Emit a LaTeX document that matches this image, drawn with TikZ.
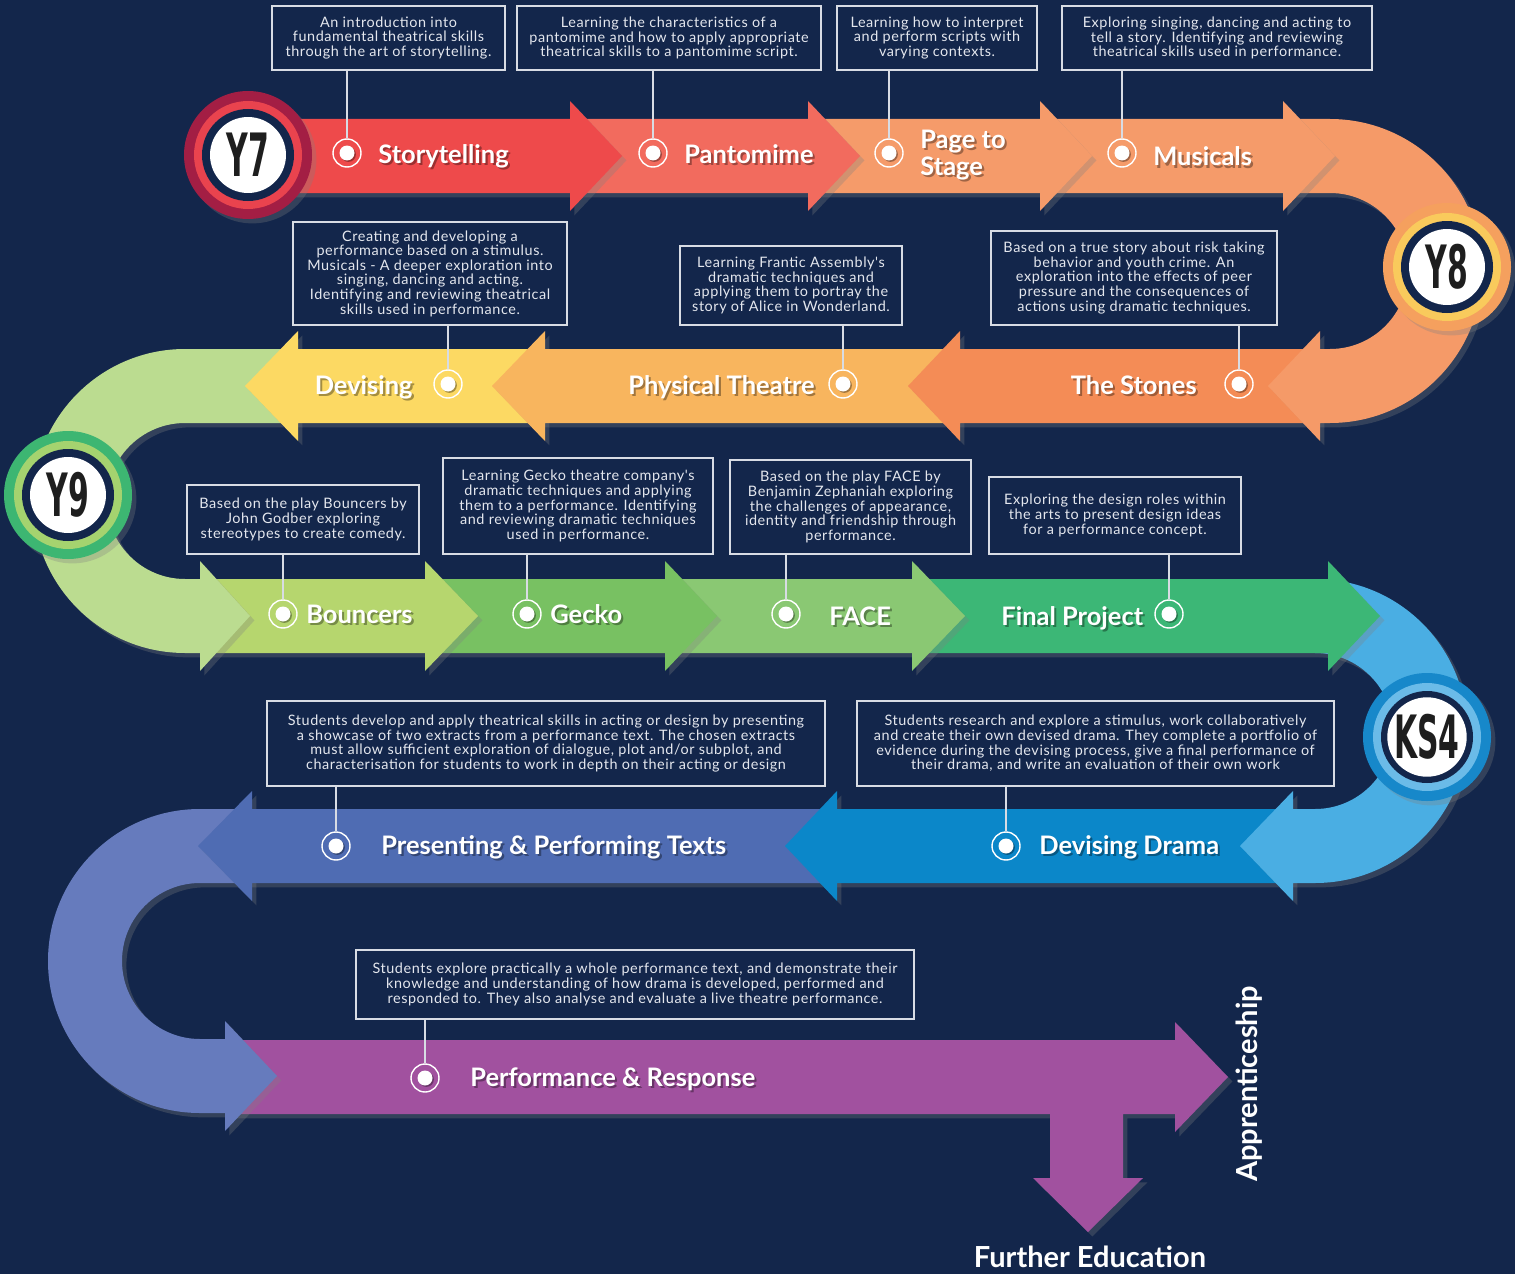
\documentclass[tikz,border=0pt]{standalone}
\usepackage{fontspec}
\setmainfont{Lato}
\newfontfamily\boxfont{Lato}[LetterSpace=4.0]
\newfontfamily\yearfont{DejaVu Sans}
\usetikzlibrary{shadows}

\definecolor{bgnavy}{HTML}{13264B}
\definecolor{boxline}{HTML}{D8DCE4}
\definecolor{boxtext}{HTML}{E4E7EE}
\definecolor{yeartext}{HTML}{1E1E1E}
\definecolor{storyred}{HTML}{EE4A4B}
\definecolor{pantored}{HTML}{F26B5E}
\definecolor{pageorange}{HTML}{F59B6A}
\definecolor{musicorange}{HTML}{F59B6A}
\definecolor{uturnone}{HTML}{F59A68}
\definecolor{stonesorange}{HTML}{F48C56}
\definecolor{physorange}{HTML}{F8B55E}
\definecolor{devyellow}{HTML}{FCD963}
\definecolor{uturntwo}{HTML}{BBDC90}
\definecolor{bouncgreen}{HTML}{B6D66E}
\definecolor{geckogreen}{HTML}{78C162}
\definecolor{facegreen}{HTML}{8AC873}
\definecolor{finalgreen}{HTML}{3CB776}
\definecolor{uturnthree}{HTML}{4AAEE3}
\definecolor{dramablue}{HTML}{0B87C9}
\definecolor{textsblue}{HTML}{4F6CB3}
\definecolor{uturnfour}{HTML}{667BBD}
\definecolor{perfpurple}{HTML}{A1519F}
\definecolor{ysevenout}{HTML}{A31E44}
\definecolor{ysevenring}{HTML}{E9434E}
\definecolor{yeightout}{HTML}{F5A05E}
\definecolor{yeightring}{HTML}{F9CA5C}
\definecolor{ynineout}{HTML}{3DB672}
\definecolor{yninering}{HTML}{A5D36F}
\definecolor{ksout}{HTML}{1788CA}
\definecolor{ksring}{HTML}{6BBBE8}

% straight arrow: colour, start x, head base x, tip x, middle y
\newcommand{\steparrow}[5]{%
  \fill[#1, arrowshadow] (#2,#5-37) -- (#3,#5-37) -- (#3,#5-55) -- (#4,#5)
    -- (#3,#5+55) -- (#3,#5+37) -- (#2,#5+37) -- cycle;}
% u-turns: colour, start x, centre x, centre y, head base x, tip x
\newcommand{\uright}[6]{%
  \fill[#1, arrowshadow] (#2,#4-152) -- (#3,#4-152) arc (-90:90:152) -- (#5,#4+152)
    -- (#5,#4+170) -- (#6,#4+115) -- (#5,#4+60) -- (#5,#4+78) -- (#3,#4+78)
    arc (90:-90:78) -- (#2,#4-78) -- cycle;}
\newcommand{\uleft}[6]{%
  \fill[#1, arrowshadow] (#2,#4-152) -- (#3,#4-152) arc (-90:-270:152) -- (#5,#4+152)
    -- (#5,#4+170) -- (#6,#4+115) -- (#5,#4+60) -- (#5,#4+78) -- (#3,#4+78)
    arc (90:270:78) -- (#2,#4-78) -- cycle;}
% year badge: name, centre, outer colour, ring colour, text
\newcommand{\yearbadge}[5]{%
  \fill[#3, arrowshadow] (#2) circle (64);
  \fill[#4] (#2) circle (54);
  \fill[bgnavy] (#2) circle (46);
  \node[yearnum] (#1) at (#2) {\scalebox{0.5}[1]{#5}};}
% white label with a soft dark copy under it
\newcommand{\steplabel}[4]{%
  \node[lblshadow, anchor=#2, xshift=1.2pt, yshift=-1.2pt] (#1s) at (#3) {#4};
  \node[lbl, anchor=#2] (#1) at (#3) {#4};}

\tikzset{
  arrowshadow/.style={drop shadow={shadow xshift=2.5pt, shadow yshift=-2.5pt, opacity=0.3}},
  infobox/.style={draw=boxline, line width=0.7pt, text=boxtext, align=center, inner sep=0pt,
    font=\boxfont\fontsize{8.2}{8.3}\selectfont},
  conn/.style={draw=boxline, line width=0.6pt},
  mk/.style={circle, draw=white, line width=0.8pt, minimum size=0.56cm, inner sep=0pt,
    path picture={\fill[black, opacity=0.35] ([xshift=0.8pt, yshift=-0.8pt]path picture bounding box.center) circle (0.15cm);
      \fill[white] (path picture bounding box.center) circle (0.15cm);}},
  lbl/.style={text=white, inner sep=0pt, align=left, font=\fontsize{14.5}{15}\selectfont\bfseries},
  lblshadow/.style={lbl, text=black, opacity=0.35},
  biglbl/.style={font=\fontsize{16.5}{17}\selectfont\bfseries},
  yearnum/.style={circle, fill=white, minimum size=1.52cm, inner sep=0pt, text=yeartext,
    font=\yearfont\fontsize{34}{34}\selectfont\bfseries}
}

\begin{document}
\begin{tikzpicture}[x=0.02cm, y=-0.02cm]
\useasboundingbox (0,0) rectangle (1515,1274);
\fill[bgnavy] (0,0) rectangle (1515,1274);

% the road, drawn from its end back to its start
\fill[perfpurple, arrowshadow] (225,1040) -- (1175,1040) -- (1175,1022) -- (1228,1077)
  -- (1175,1132) -- (1175,1114) -- (1123,1114) -- (1123,1178) -- (1143,1178) -- (1088,1232)
  -- (1033,1178) -- (1050,1178) -- (1050,1114) -- (225,1114) -- cycle;
\uleft{uturnfour}{252}{200}{961}{225}{277}
\steparrow{textsblue}{837}{252}{198}{846}
\steparrow{dramablue}{1293}{837}{785}{846}
\uright{uturnthree}{1328}{1315}{731}{1293}{1240}
\steparrow{finalgreen}{912}{1328}{1380}{616}
\steparrow{facegreen}{665}{912}{965}{616}
\steparrow{geckogreen}{425}{665}{717}{616}
\steparrow{bouncgreen}{200}{425}{478}{616}
\uleft{uturntwo}{298}{185}{501}{200}{250}
\steparrow{devyellow}{545}{298}{245}{386}
\steparrow{physorange}{960}{545}{492}{386}
\steparrow{stonesorange}{1320}{960}{908}{386}
\uright{uturnone}{1283}{1330}{271}{1320}{1268}
\steparrow{musicorange}{1040}{1283}{1335}{156}
\steparrow{pageorange}{808}{1040}{1092}{156}
\steparrow{pantored}{570}{808}{860}{156}
\steparrow{storyred}{290}{570}{622}{156}

% year badges
\yearbadge{yseven}{248,155}{ysevenout}{ysevenring}{Y7}
\yearbadge{yeight}{1447,267}{yeightout}{yeightring}{Y8}
\yearbadge{ynine}{68,495}{ynineout}{yninering}{Y9}
\yearbadge{ksfour}{1427,737}{ksout}{ksring}{KS4}

% description boxes
\node[infobox, minimum width=4.66cm, minimum height=1.28cm] (storybox) at (388.5,38)
  {An introduction into\\fundamental theatrical skills\\through the art of storytelling.};
\node[infobox, minimum width=6.08cm, minimum height=1.28cm] (pantobox) at (669,38)
  {Learning the characteristics of a\\pantomime and how to apply appropriate\\theatrical skills to a pantomime script.};
\node[infobox, minimum width=4.0cm, minimum height=1.28cm] (pagebox) at (937,38)
  {Learning how to interpret\\and perform scripts with\\varying contexts.};
\node[infobox, minimum width=6.2cm, minimum height=1.28cm] (musicbox) at (1217,38)
  {Exploring singing, dancing and acting to\\tell a story. Identifying and reviewing\\theatrical skills used in performance.};
\node[infobox, minimum width=5.48cm, minimum height=2.06cm] (devisebox) at (430,273.5)
  {Creating and developing a\\performance based on a stimulus.\\Musicals - A deeper exploration into\\singing, dancing and acting.\\Identifying and reviewing theatrical\\skills used in performance.};
\node[infobox, minimum width=4.44cm, minimum height=1.58cm] (physbox) at (791,285.5)
  {Learning Frantic Assembly's\\dramatic techniques and\\applying them to portray the\\story of Alice in Wonderland.};
\node[infobox, minimum width=5.72cm, minimum height=1.88cm] (stonesbox) at (1134,278)
  {Based on a true story about risk taking\\behavior and youth crime. An\\exploration into the effects of peer\\pressure and the consequences of\\actions using dramatic techniques.};
\node[infobox, minimum width=4.64cm, minimum height=1.38cm] (bouncebox) at (303,519.5)
  {Based on the play Bouncers by\\John Godber exploring\\stereotypes to create comedy.};
\node[infobox, minimum width=5.4cm, minimum height=1.92cm] (geckobox) at (578,506)
  {Learning Gecko theatre company's\\dramatic techniques and applying\\them to a performance. Identifying\\and reviewing dramatic techniques\\used in performance.};
\node[infobox, minimum width=4.82cm, minimum height=1.88cm] (facebox) at (850.5,507)
  {Based on the play FACE by\\Benjamin Zephaniah exploring\\the challenges of appearance,\\identity and friendship through\\performance.};
\node[infobox, minimum width=5.04cm, minimum height=1.54cm] (finalbox) at (1115,515.5)
  {Exploring the design roles within\\the arts to present design ideas\\for a performance concept.};
\node[infobox, minimum width=11.16cm, minimum height=1.7cm] (textsbox) at (546,743.5)
  {Students develop and apply theatrical skills in acting or design by presenting\\a showcase of two extracts from a performance text. The chosen extracts\\must allow sufficient exploration of dialogue, plot and/or subplot, and\\characterisation for students to work in depth on their acting or design};
\node[infobox, minimum width=9.54cm, minimum height=1.7cm] (dramabox) at (1095.5,743.5)
  {Students research and explore a stimulus, work collaboratively\\and create their own devised drama. They complete a portfolio of\\evidence during the devising process, give a final performance of\\their drama, and write an evaluation of their own work};
\node[infobox, minimum width=11.16cm, minimum height=1.38cm] (perfbox) at (635,984.5)
  {Students explore practically a whole performance text, and demonstrate their\\knowledge and understanding of how drama is developed, performed and\\responded to. They also analyse and evaluate a live theatre performance.};

% markers on the road
\node[mk] (storymk) at (347,153) {};
\node[mk] (pantomk) at (653,153) {};
\node[mk] (pagemk) at (889,153) {};
\node[mk] (musicmk) at (1122,153) {};
\node[mk] (devisemk) at (448,384) {};
\node[mk] (physmk) at (843,384) {};
\node[mk] (stonesmk) at (1239,384) {};
\node[mk] (bouncemk) at (283,614) {};
\node[mk] (geckomk) at (527,614) {};
\node[mk] (facemk) at (786,614) {};
\node[mk] (finalmk) at (1169,614) {};
\node[mk] (textsmk) at (336,846) {};
\node[mk] (dramamk) at (1006,846) {};
\node[mk] (perfmk) at (425,1078) {};

% connectors
\foreach \s in {story,panto,page,music,devise,phys,stones,bounce,gecko,face,final,texts,drama,perf}
  \draw[conn] (\s mk.north |- \s box.south) -- (\s mk.north);

% labels
\steplabel{storylbl}{base west}{378,163}{Storytelling}
\steplabel{pantolbl}{base west}{684,163}{Pantomime}
\steplabel{pagelbl}{west}{920,155}{Page to\\Stage}
\steplabel{musiclbl}{base west}{1153,166}{Musicals}
\steplabel{deviselbl}{base east}{413,394}{Devising}
\steplabel{physlbl}{base east}{815,394}{Physical Theatre}
\steplabel{stoneslbl}{base east}{1197,394}{The Stones}
\steplabel{bouncelbl}{base west}{306,623}{Bouncers}
\steplabel{geckolbl}{base west}{550,623}{Gecko}
\steplabel{facelbl}{base west}{829,625}{FACE}
\steplabel{finallbl}{base west}{1001,625}{Final Project}
\steplabel{textslbl}{base west}{381,854}{Presenting \& Performing Texts}
\steplabel{dramalbl}{base west}{1039,854}{Devising Drama}
\steplabel{perflbl}{base west}{470,1086}{Performance \& Response}
\node[lbl, biglbl, anchor=base] (further) at (1090,1267) {Further Education};
\node[lbl, biglbl, rotate=90] (apprentice) at (1249,1084) {Apprenticeship};
\end{tikzpicture}
\end{document}
